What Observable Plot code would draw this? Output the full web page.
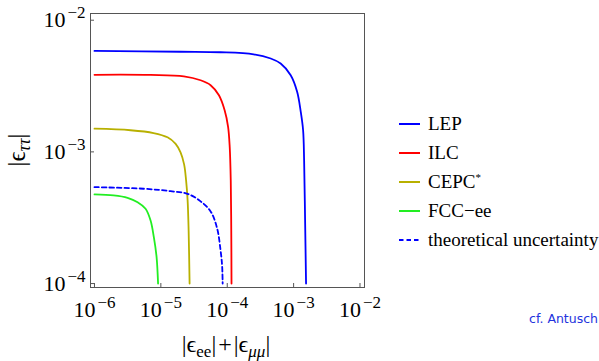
<!DOCTYPE html>
<html><head><meta charset="utf-8">
<script src="https://cdn.jsdelivr.net/npm/d3@7"></script>
<script src="https://cdn.jsdelivr.net/npm/@observablehq/plot@0.6"></script>
<style>
body{margin:0;background:#fff}
#wrap{position:relative;width:599px;height:361px}
</style>
</head><body><div id="wrap"></div>
<script>
// ---- data ----
const seriesNames = ["LEP", "ILC", "CEPC*", "FCC−ee", "theoretical uncertainty"];
const seriesColors = ["#0000ff", "#ff0000", "#b8b000", "#22ee22", "#0000ff"];

const lepX = [1e-6, 1.98e-5, 7.94e-5, 2.50e-4, 4.52e-4, 6.38e-4, 9.04e-4, 1.13e-3, 1.28e-3, 1.39e-3, 1.44e-3, 1.49e-3, 1.54e-3];
const lepY = [5.85e-3, 5.76e-3, 5.71e-3, 5.51e-3, 5.12e-3, 4.69e-3, 3.82e-3, 2.86e-3, 2.02e-3, 1.46e-3, 8.6e-4, 3.0e-4, 1.0e-4];

const ilcX = [1e-6, 7.0e-6, 2.22e-5, 3.97e-5, 5.62e-5, 7.50e-5, 9.14e-5, 1.03e-4, 1.09e-4, 1.13e-4, 1.15e-4, 1.16e-4];
const ilcY = [3.85e-3, 3.84e-3, 3.75e-3, 3.50e-3, 3.21e-3, 2.69e-3, 2.07e-3, 1.55e-3, 1.09e-3, 6.07e-4, 2.53e-4, 1.0e-4];

const cepcX = [1e-6, 3.49e-6, 7.76e-6, 1.26e-5, 1.67e-5, 1.98e-5, 2.24e-5, 2.40e-5, 2.53e-5, 2.62e-5, 2.71e-5];
const cepcY = [1.50e-3, 1.46e-3, 1.39e-3, 1.29e-3, 1.15e-3, 9.9e-4, 8.03e-4, 6.07e-4, 4.28e-4, 2.53e-4, 1.0e-4];

const fccX = [1e-6, 1.94e-6, 3.15e-6, 4.46e-6, 5.88e-6, 7.0e-6, 7.84e-6, 8.61e-6, 9.08e-6];
const fccY = [4.75e-4, 4.67e-4, 4.48e-4, 4.15e-4, 3.70e-4, 3.01e-4, 2.25e-4, 1.60e-4, 1.0e-4];

const theoX = [1e-6, 5.48e-6, 1.40e-5, 2.53e-5, 3.97e-5, 5.62e-5, 7.05e-5, 7.94e-5, 8.37e-5, 8.53e-5];
const theoY = [5.40e-4, 5.25e-4, 5.03e-4, 4.80e-4, 4.21e-4, 3.53e-4, 2.62e-4, 1.78e-4, 1.37e-4, 1.0e-4];

const xTicks = [1e-6, 1e-5, 1e-4, 1e-3, 1e-2];
const yTicks = [1e-4, 1e-3, 1e-2];

// ---- build table ----
const allX = [lepX, ilcX, cepcX, fccX, theoX];
const allY = [lepY, ilcY, cepcY, fccY, theoY];
const rows = [];
allX.forEach((xs, i) => xs.forEach((x, j) => rows.push({x, y: allY[i][j], series: seriesNames[i]})));
const solid = rows.filter(d => d.series !== "theoretical uncertainty");
const dashed = rows.filter(d => d.series === "theoretical uncertainty");

const fmt = d => "10^−" + Math.round(-Math.log10(d));
const serif = "'Liberation Serif', 'Times New Roman', serif";

const chart = Plot.plot({
  width: 599, height: 361,
  marginLeft: 90, marginRight: 235, marginTop: 13, marginBottom: 74,
  style: {background: "white", fontFamily: serif, color: "black", overflow: "visible"},
  x: {type: "log", domain: [10 ** -6.06, 10 ** -1.932]},
  y: {type: "log", domain: [10 ** -4.03, 10 ** -1.949]},
  color: {domain: seriesNames, range: seriesColors},
  marks: [
    Plot.line(solid, {x: "x", y: "y", z: "series", stroke: "series", strokeWidth: 1.8, curve: "catmull-rom"}),
    Plot.line(dashed, {x: "x", y: "y", stroke: "series", strokeWidth: 1.8, strokeDasharray: "4.5,3", curve: "catmull-rom"}),
    Plot.frame({stroke: "#555", strokeWidth: 1}),
    Plot.axisX({ticks: xTicks, tickSize: -4, fill: "none", stroke: "#555", label: null}),
    Plot.axisY({ticks: yTicks, tickSize: -4, fill: "none", stroke: "#555", label: null}),
    Plot.axisX({ticks: xTicks, tickSize: 0, tickPadding: 14, fontSize: 22, fontFamily: serif, tickFormat: fmt, label: null}),
    Plot.axisY({ticks: yTicks, tickSize: 0, tickPadding: 5, fontSize: 22, fontFamily: serif, tickFormat: fmt, label: null})
  ]
});
document.getElementById("wrap").appendChild(chart);

const svg = d3.select(chart);
// superscript exponents on tick labels
svg.selectAll('g[aria-label="x-axis tick label"] text, g[aria-label="y-axis tick label"] text').each(function () {
  const t = d3.select(this);
  const parts = t.text().split("^");
  if (parts.length !== 2) return;
  t.attr("font-size", 22);
  t.text(null);
  t.append("tspan").text(parts[0]);
  t.append("tspan").attr("dy", -9).attr("dx", 2).attr("font-size", 17).text(parts[1]);
});

// axis titles
const xt = svg.append("text").attr("x", 226).attr("y", 352).attr("text-anchor", "middle")
  .attr("font-family", serif).attr("font-size", 24).attr("fill", "black");
xt.append("tspan").text("|ϵ");
xt.append("tspan").attr("font-size", 17).attr("dy", 5).text("ee");
xt.append("tspan").attr("dy", -5).text("|");
xt.append("tspan").attr("dx", 2).text("+");
xt.append("tspan").attr("dx", 2).text("|ϵ");
xt.append("tspan").attr("font-size", 17).attr("dy", 5).attr("font-style", "italic").text("μμ");
xt.append("tspan").attr("dy", -5).text("|");

const yt = svg.append("text").attr("transform", "translate(25,150) rotate(-90)").attr("text-anchor", "middle")
  .attr("font-family", serif).attr("font-size", 25).attr("fill", "black");
yt.append("tspan").text("|ϵ");
yt.append("tspan").attr("font-size", 18).attr("dy", 5).attr("font-style", "italic").text("ττ");
yt.append("tspan").attr("dy", -5).text("|");

// legend
const lg = svg.append("g").attr("font-family", serif).attr("font-size", 19).attr("fill", "black");
seriesNames.forEach((name, i) => {
  const cy = 124 + i * 29;
  lg.append("line").attr("x1", 399).attr("x2", 420).attr("y1", cy).attr("y2", cy)
    .attr("stroke", seriesColors[i]).attr("stroke-width", 2)
    .attr("stroke-dasharray", name === "theoretical uncertainty" ? "4.5,3" : null);
  const t = lg.append("text").attr("x", 428).attr("y", cy).attr("dy", "0.34em").attr("text-anchor", "start");
  if (name.endsWith("*")) {
    t.append("tspan").text(name.slice(0, -1));
    t.append("tspan").attr("font-size", 11).attr("dy", -7).text("*");
  } else {
    t.text(name);
  }
});

svg.append("text").attr("x", 598).attr("y", 323).attr("text-anchor", "end")
  .attr("font-family", "'DejaVu Sans', sans-serif").attr("font-size", 12.5)
  .attr("fill", "#2233dd").text("cf. Antusch");
</script>
</body></html>
